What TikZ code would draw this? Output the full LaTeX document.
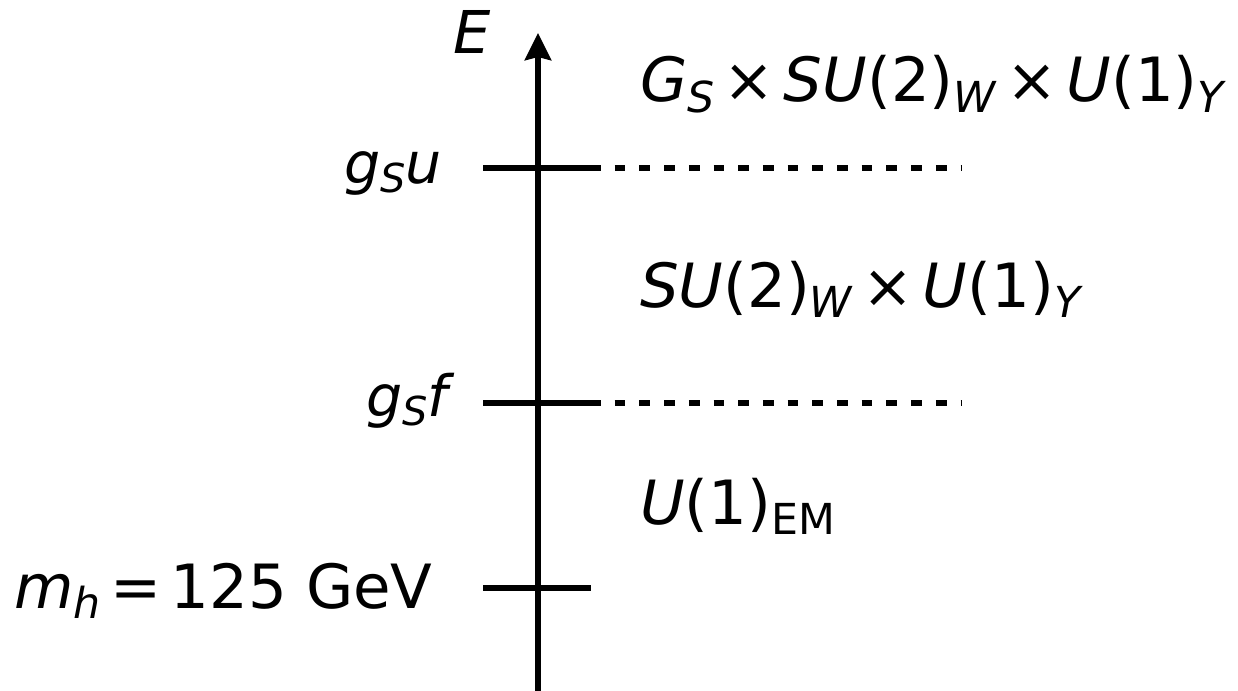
\documentclass[tikz,border=0pt]{standalone}
\usepackage{fontspec}
\setmainfont{DejaVu Sans}
\usetikzlibrary{positioning, calc, arrows.meta}

\newcommand{\lsub}[1]{\raisebox{-0.17em}{\scalebox{0.7}{#1}}}
\newcommand{\bop}[1]{\hspace{0.15em}#1\hspace{0.15em}}

\begin{document}
\begin{tikzpicture}[x=1pt,y=-1pt, line join=miter,
  tick/.style={line width=6pt},
  scaleline/.style={line width=6pt, dash pattern=on 10.7pt off 14pt},
  bigtext/.style={font=\fontsize{61}{72}\selectfont, inner sep=0pt},
  smalltext/.style={font=\fontsize{57}{68}\selectfont, inner sep=0pt}]

\useasboundingbox (0,0) rectangle (1238,690);

% energy axis
\coordinate (ebot) at (538,695);
\coordinate (etop) at (538,33);
\draw[line width=6pt, -{Stealth[length=27pt,width=26pt,inset=3pt]}] (ebot) -- (etop);
\node[smalltext, font=\fontsize{59}{70}\selectfont, anchor=base west] (elab) at (453,54) {\textit{E}};

% scale u
\coordinate (u1) at (483,168);
\coordinate (u2) at (590,168);
\coordinate (u3) at (962,168);
\draw[tick] (u1) -- (u2);
\draw[scaleline] (u2) -- (u3);

% scale f
\coordinate (f1) at (483,403);
\coordinate (f2) at (590,403);
\coordinate (f3) at (962,403);
\draw[tick] (f1) -- (f2);
\draw[scaleline] (f2) -- (f3);

% higgs mass
\coordinate (h1) at (483,588);
\coordinate (h2) at (591,588);
\draw[tick] (h1) -- (h2);

\node[smalltext, anchor=base east] (ulab) at (442,183) {\textit{g}\lsub{\textit{S}}\textit{u}};
\node[smalltext, anchor=base east] (flab) at (455,416) {\textit{g}\lsub{\textit{S}}\textit{f}};
\node[bigtext, anchor=base east] (hlab) at (433,608) {\textit{m}\lsub{\textit{h}}\bop{=}125 GeV};

% symmetry groups
\node[bigtext, anchor=base west] (gfull) at (640,102) {\textit{G}\lsub{\textit{S}}\bop{×}\textit{SU}(2)\lsub{\textit{W}}\bop{×}\textit{U}(1)\lsub{\textit{Y}}};
\node[bigtext, anchor=base west] (gew) at (640,307) {\textit{SU}(2)\lsub{\textit{W}}\bop{×}\textit{U}(1)\lsub{\textit{Y}}};
\node[bigtext, anchor=base west] (gem) at (640,524) {\textit{U}(1)\lsub{EM}};

\end{tikzpicture}
\end{document}
